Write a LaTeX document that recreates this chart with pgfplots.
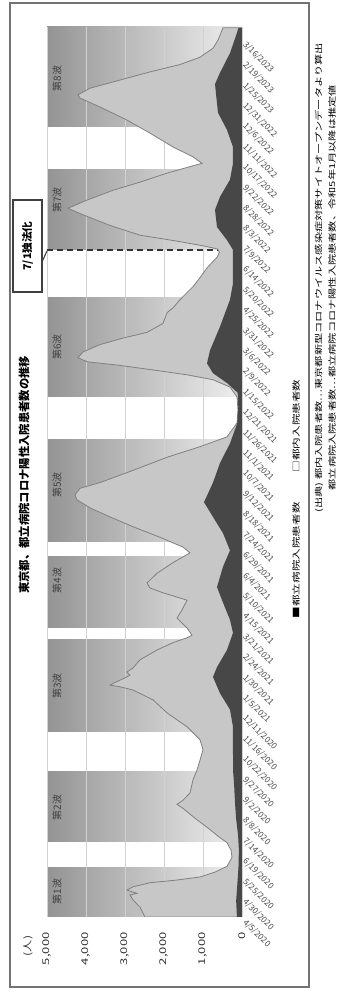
\documentclass[border=0pt]{standalone}
\usepackage{fontspec}
\setmainfont{Noto Sans CJK JP}
\usepackage{graphicx}
\usepackage{pgfplots}
\pgfplotsset{compat=1.18}
\pgfplotstableread{
v d
0 0
2490 0
2540 5
2615 12
2795 21
2872 27
2692 29
2949 33
2795 37
2360 42
1718 45
1077 49
692 55
385 62
256 73
282 82
385 91
615 99
820 107
1205 121
1513 133
1667 138
1513 143
1333 152
1256 168
1154 180
1077 192
1000 205
1077 217
1410 233
1923 250
2282 266
2795 278
3128 282
3385 284
3128 290
2872 296
2949 300
2795 305
2615 315
2179 327
1769 336
1410 342
1282 345
1410 354
1667 366
1538 376
1410 388
2026 397
2359 403
2436 409
2179 421
1769 434
1333 446
1513 453
2102 465
2795 478
3385 490
3897 501
4231 511
4282 517
4154 525
3641 532
2795 547
1923 563
1077 576
385 588
128 605
103 621
128 637
308 649
744 658
1410 664
2282 670
3205 676
3974 680
4205 685
4077 692
3641 701
3051 709
2436 716
2026 727
1923 740
1769 746
1590 756
1256 772
1077 783
897 795
641 808
580 814
620 818
1000 822
1700 828
2615 835
3385 847
4077 860
4461 868
3974 878
3308 890
2615 900
1923 911
1333 919
1026 923
1256 931
1769 943
2359 960
2949 976
3641 992
4154 1003
4205 1007
3897 1015
3128 1025
2360 1035
1590 1044
1077 1053
744 1064
615 1074
487 1089
0 1089
}\tokyo
\pgfplotstableread{
v d
0 0
130 0
150 20
120 40
90 61
80 82
100 100
150 120
180 140
200 160
230 180
231 205
231 233
308 254
564 274
744 294
641 306
385 327
231 348
308 364
487 385
641 404
487 429
308 449
487 470
744 490
974 508
744 532
564 556
308 580
120 605
95 625
110 642
385 654
744 666
897 678
820 694
564 723
308 756
231 776
231 817
385 829
641 845
692 866
564 882
308 903
231 923
231 943
385 964
615 985
660 1005
692 1020
564 1034
308 1058
128 1083
90 1089
0 1089
}\toritsu
\begin{document}
\begin{tikzpicture}[x=0.75pt,y=0.75pt,
  wave/.style={left color=black!42, middle color=black!16, right color=black!6},
  wl/.style={rotate=90, font=\fontsize{7.5}{8}\selectfont, text=black!75}]
\useasboundingbox (0,0) rectangle (340,994);
\draw[black!55, line width=1.1pt] (10,994-3) rectangle (309,994-987);
% wave period bands (background)
\fill[wave] (47,994-917) rectangle (242,994-868);
\fill[wave] (47,994-842) rectangle (242,994-772);
\fill[wave] (47,994-732) rectangle (242,994-640);
\fill[wave] (47,994-628) rectangle (242,994-557);
\fill[wave] (47,994-542) rectangle (242,994-440);
\fill[wave] (47,994-397) rectangle (242,994-298);
\fill[wave] (47,994-250) rectangle (242,994-170);
\fill[wave] (47,994-127) rectangle (242,994-27);
\begin{axis}[
  at={(35.25pt,57.75pt)}, anchor=south west,
  scale only axis, width=146.25pt, height=667.5pt,
  x dir=reverse,
  xmin=0, xmax=5000, ymin=0, ymax=1090,
  axis line style={draw=none},
  major tick length=0pt,
  /pgf/number format/1000 sep={,},
  /pgf/number format/assume math mode=true,
  xtick={0,1000,2000,3000,4000,5000},
  xticklabel={\scalebox{1.4}[1]{\pgfmathprintnumber{\tick}}},
  xticklabel style={yshift=-8pt, rotate=90, anchor=east, font=\fontsize{7}{8}\selectfont, text=black!80},
  ytick={0,25,...,1075},
  yticklabels={4/5/2020,4/30/2020,5/25/2020,6/19/2020,7/14/2020,8/8/2020,9/2/2020,9/27/2020,10/22/2020,11/16/2020,12/11/2020,1/5/2021,1/30/2021,2/24/2021,3/21/2021,4/15/2021,5/10/2021,6/4/2021,6/29/2021,7/24/2021,8/18/2021,9/12/2021,10/7/2021,11/1/2021,11/26/2021,12/21/2021,1/15/2022,2/9/2022,3/6/2022,3/31/2022,4/25/2022,5/20/2022,6/14/2022,7/9/2022,8/3/2022,8/28/2022,9/22/2022,10/17/2022,11/11/2022,12/6/2022,12/31/2022,1/25/2023,2/19/2023,3/16/2023},
  yticklabel pos=right,
  yticklabel style={xshift=4pt, rotate=-45, anchor=north west, inner sep=0.5pt, font=\fontsize{6.3}{7}\selectfont, text=black!70},
  xmajorgrids=true, ymajorgrids=false,
  grid style={black!18, line width=0.5pt},
]
\draw[black!80, line width=1.5pt, dash pattern=on 4.5pt off 3pt] (axis cs:5000,817) -- (axis cs:0,817);
\addplot[fill=black!22, draw=black!50, line width=0.6pt] table[x=v, y=d] {\tokyo};
\addplot[fill=black!72, draw=none] table[x=v, y=d] {\toritsu};
\node[wl] at (axis cs:4740,31) {第1波};
\node[wl] at (axis cs:4740,134) {第2波};
\node[wl] at (axis cs:4740,283) {第3波};
\node[wl] at (axis cs:4740,412) {第4波};
\node[wl] at (axis cs:4740,529) {第5波};
\node[wl] at (axis cs:4740,698) {第6波};
\node[wl] at (axis cs:4740,878) {第7波};
\node[wl] at (axis cs:4740,1027) {第8波};
\end{axis}
\node[rotate=90, font=\bfseries\fontsize{8.5}{9}\selectfont] at (24,994-475) {東京都、都立病院コロナ陽性入院患者数の推移};
\draw[black!75, line width=0.8pt, fill=white] (13,994-200) rectangle (42,994-292);
\draw[black!75, line width=0.8pt] (42,994-262) -- (47,994-251);
\node[rotate=90, font=\bfseries\fontsize{8}{9}\selectfont] at (27.5,994-246) {7/1独法化};
\node[rotate=90, font=\fontsize{7}{8}\selectfont, text=black!80] at (28,994-946) {\scalebox{1.3}[1]{(人)}};
\node[rotate=90, anchor=west, font=\fontsize{6}{7}\selectfont] at (296,994-623) {\scalebox{1.45}[1]{■都立病院入院患者数}};
\node[rotate=90, anchor=west, font=\fontsize{6}{7}\selectfont] at (296,994-477) {\scalebox{1.45}[1]{□都内入院患者数}};
\node[rotate=90, anchor=west, font=\fontsize{6}{7}\selectfont] at (319,994-517) {\scalebox{1.4}[1]{(出典) 都内入院患者数…東京都新型コロナウイルス感染症対策サイトオープンデータより算出}};
\node[rotate=90, anchor=west, font=\fontsize{6}{7}\selectfont] at (332,994-495) {\scalebox{1.4}[1]{都立病院入院患者数…都立病院コロナ陽性入院患者数、令和5年1月以降は推定値}};
\end{tikzpicture}
\end{document}
